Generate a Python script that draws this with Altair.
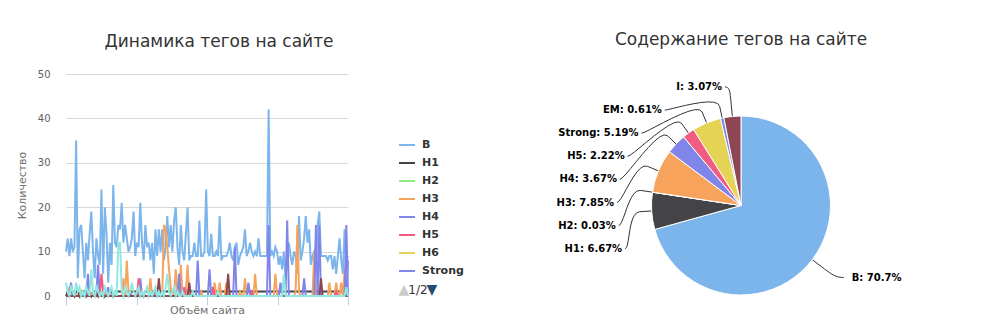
import altair as alt
import pandas as pd

FONT = "DejaVu Sans"

# ---------------- line chart data ----------------
tags = ["B", "H1", "H2", "H3", "H4", "H5", "H6", "Strong", "EM", "I"]
line_colors = ["#7cb5ec", "#434348", "#90ed7d", "#f7a35c", "#8085e9",
               "#f15c80", "#e4d354", "#8085e8", "#8d4653", "#91e8e1"]

B = [10, 13, 9, 13, 10, 11, 35, 4, 15, 16, 10, 4, 12, 8, 14, 19, 10, 4, 13, 9, 7,
     24, 5, 20, 14, 3, 12, 7, 25, 12, 11, 16, 15, 21, 12, 16, 13, 10, 11, 13, 19, 9,
     12, 11, 21, 12, 8, 16, 11, 12, 8, 12, 5, 15, 9, 15, 10, 15, 8, 11, 18, 11, 16,
     10, 17, 20, 11, 7, 16, 10, 8, 14, 20, 8, 9, 9, 12, 9, 9, 17, 9, 9, 10, 24,
     10, 9, 14, 9, 9, 10, 9, 18, 8, 9, 9, 9, 10, 12, 9, 8, 11, 12, 7, 9, 10,
     11, 15, 9, 10, 12, 10, 9, 10, 9, 13, 9, 9, 9, 9, 9, 42, 9, 10, 9, 11, 10,
     7, 9, 6, 10, 4, 10, 12, 9, 7, 10, 9, 5, 18, 8, 10, 13, 18, 12, 15, 7, 9,
     10, 8, 16, 19, 9, 9, 9, 9, 8, 9, 9, 6, 9, 5, 9, 13, 8, 5, 15, 8, 9]

H1 = [0, 1, 0, 1, 1, 0, 1, 1, 0, 1, 1, 1, 0, 1, 1, 0, 1, 1, 1, 0, 1,
      1, 1, 0, 1, 1, 1, 1, 0, 1, 1, 1, 1, 1, 0, 1, 1, 1, 1, 1, 1, 1,
      1, 1, 1, 1, 0, 1, 1, 1, 1, 1, 1, 1, 1, 1, 1, 1, 1, 1, 1, 1, 1,
      1, 1, 1, 1, 1, 1, 1, 1, 1, 1, 1, 1, 1, 1, 1, 1, 1, 1, 1, 1, 1,
      1, 1, 1, 1, 1, 1, 1, 1, 1, 1, 1, 1, 1, 1, 1, 1, 1, 1, 1, 1, 1,
      1, 1, 1, 1, 1, 1, 1, 1, 1, 1, 1, 1, 1, 1, 1, 1, 1, 1, 1, 1, 1,
      1, 1, 1, 1, 1, 1, 1, 1, 1, 1, 1, 1, 1, 1, 1, 1, 1, 1, 1, 1, 1,
      1, 1, 1, 1, 1, 1, 1, 1, 1, 1, 1, 1, 1, 1, 1, 1, 1, 1, 1, 1, 1]

H2 = [0, 0, 0, 0, 0, 0, 0, 0, 0, 0, 0, 0, 1, 0, 0, 0, 0, 0, 0, 0, 0,
      0, 0, 0, 0, 0, 0, 0, 0, 0, 0, 0, 0, 0, 0, 0, 0, 0, 0, 0, 0, 0,
      0, 0, 0, 0, 0, 0, 0, 0, 0, 0, 0, 0, 0, 0, 0, 0, 0, 0, 0, 0, 0,
      0, 0, 0, 0, 0, 0, 0, 0, 0, 0, 0, 0, 0, 0, 0, 0, 0, 0, 0, 0, 0,
      0, 0, 0, 0, 0, 0, 0, 0, 0, 0, 0, 0, 0, 0, 0, 0, 0, 0, 0, 0, 0,
      0, 0, 0, 0, 0, 0, 0, 0, 0, 0, 0, 0, 0, 0, 0, 0, 0, 0, 0, 0, 0,
      0, 0, 0, 0, 0, 0, 0, 0, 0, 0, 0, 0, 0, 0, 0, 0, 0, 0, 0, 0, 0,
      0, 0, 0, 0, 0, 0, 0, 0, 0, 0, 0, 0, 0, 0, 0, 0, 0, 0, 0, 0, 0]

H3 = [0, 0, 2, 0, 0, 1, 0, 0, 0, 1, 0, 0, 0, 0, 0, 0, 1, 0, 0, 0, 0,
      0, 0, 0, 1, 0, 0, 0, 0, 0, 0, 0, 0, 0, 4, 0, 8, 1, 0, 0, 0, 0,
      0, 0, 1, 0, 0, 0, 0, 0, 4, 0, 0, 1, 0, 0, 0, 0, 16, 15, 11, 6, 2,
      0, 0, 6, 1, 0, 7, 0, 0, 1, 7, 0, 0, 0, 0, 0, 0, 0, 1, 0, 0, 0,
      0, 0, 0, 0, 3, 0, 0, 3, 0, 0, 0, 3, 0, 0, 0, 0, 0, 0, 0, 1, 0,
      0, 4, 0, 0, 0, 0, 0, 5, 0, 0, 0, 0, 0, 0, 0, 0, 0, 0, 0, 5, 0,
      0, 0, 0, 0, 0, 0, 0, 0, 0, 0, 1, 16, 1, 0, 0, 0, 0, 0, 0, 0, 0,
      10, 0, 0, 0, 0, 0, 0, 0, 0, 3, 0, 0, 0, 3, 0, 0, 3, 0, 6, 0, 0]

H4 = [0, 0, 1, 3, 0, 0, 0, 0, 0, 0, 0, 0, 0, 0, 0, 0, 0, 0, 1, 7, 0,
      0, 0, 0, 0, 0, 0, 0, 0, 0, 0, 0, 0, 0, 0, 0, 0, 0, 1, 0, 0, 0,
      0, 0, 4, 0, 0, 0, 0, 0, 0, 0, 0, 0, 0, 0, 0, 0, 0, 0, 0, 0, 0,
      0, 0, 0, 0, 0, 0, 0, 0, 0, 0, 0, 0, 0, 0, 0, 8, 0, 0, 0, 0, 0,
      0, 0, 0, 0, 0, 0, 0, 0, 0, 0, 0, 0, 0, 0, 0, 0, 11, 0, 0, 0, 0,
      0, 0, 0, 0, 0, 0, 0, 0, 0, 0, 0, 0, 0, 0, 0, 0, 0, 0, 0, 0, 0,
      0, 0, 0, 0, 0, 17, 0, 0, 0, 0, 0, 0, 0, 0, 0, 0, 0, 0, 0, 0, 0,
      0, 16, 0, 0, 0, 0, 0, 0, 0, 0, 0, 0, 0, 0, 0, 0, 0, 0, 0, 0, 8]

H5 = [0, 0, 0, 0, 0, 0, 0, 0, 0, 0, 0, 0, 2, 0, 0, 0, 0, 0, 0, 0, 0,
      5, 1, 0, 0, 0, 0, 0, 0, 0, 0, 0, 0, 0, 0, 0, 0, 0, 0, 0, 0, 0,
      0, 4, 0, 0, 0, 0, 0, 0, 0, 0, 0, 0, 0, 0, 0, 0, 0, 0, 0, 0, 0,
      0, 0, 0, 0, 0, 0, 0, 2, 0, 0, 0, 0, 0, 0, 0, 0, 0, 0, 0, 0, 0,
      0, 0, 0, 2, 0, 0, 0, 0, 0, 0, 0, 0, 0, 0, 0, 0, 0, 0, 0, 0, 0,
      0, 0, 0, 0, 0, 1, 0, 0, 0, 0, 0, 0, 0, 0, 0, 0, 0, 0, 0, 0, 0,
      0, 0, 0, 0, 0, 0, 0, 0, 0, 0, 0, 0, 0, 0, 0, 0, 0, 0, 0, 0, 0,
      0, 0, 0, 0, 0, 0, 0, 0, 0, 0, 0, 0, 0, 1, 0, 0, 0, 0, 0, 0, 0]

H6 = [0] * 21 + [0] * 21 + [0] * 21 + [0] * 21 + [0] * 21 + [0] * 21 + [0] * 21 + [0] * 21

Strong = [0, 0, 0, 0, 0, 0, 0, 0, 0, 0, 0, 0, 0, 5, 0, 0, 0, 0, 0, 0, 0,
          0, 0, 0, 0, 2, 0, 0, 0, 0, 0, 0, 0, 0, 0, 0, 0, 0, 0, 0, 0, 0,
          0, 0, 0, 0, 0, 0, 0, 0, 0, 0, 0, 2, 0, 0, 0, 0, 0, 0, 0, 0, 0,
          0, 0, 0, 0, 5, 0, 0, 0, 0, 0, 0, 0, 0, 0, 0, 0, 0, 0, 0, 0, 0,
          0, 6, 0, 0, 0, 0, 0, 0, 0, 0, 0, 0, 0, 0, 0, 0, 0, 0, 0, 0, 0,
          0, 0, 0, 3, 0, 0, 0, 0, 0, 0, 0, 0, 0, 0, 0, 16, 0, 0, 0, 0, 0,
          0, 3, 0, 0, 0, 0, 0, 0, 0, 0, 0, 0, 0, 0, 0, 4, 0, 0, 0, 0, 0,
          0, 0, 0, 16, 0, 0, 0, 0, 0, 0, 0, 0, 0, 0, 0, 0, 0, 0, 0, 16, 0]

EM = [0, 0, 0, 0, 0, 0, 0, 0, 0, 0, 0, 0, 0, 0, 0, 0, 0, 0, 0, 0, 0,
      0, 0, 0, 0, 0, 0, 0, 0, 0, 0, 0, 0, 0, 0, 0, 0, 0, 0, 0, 0, 0,
      0, 0, 0, 0, 0, 0, 0, 0, 0, 0, 0, 0, 0, 4, 0, 0, 0, 0, 0, 0, 0,
      0, 0, 0, 0, 0, 0, 0, 0, 0, 0, 3, 0, 0, 0, 0, 0, 0, 0, 0, 0, 0,
      0, 0, 0, 0, 0, 0, 0, 0, 0, 0, 0, 0, 5, 0, 0, 0, 0, 0, 0, 0, 0,
      0, 0, 0, 0, 0, 0, 0, 0, 0, 0, 0, 0, 0, 0, 0, 0, 0, 0, 0, 0, 0,
      0, 0, 0, 0, 0, 0, 0, 0, 0, 0, 0, 0, 0, 0, 0, 0, 0, 0, 0, 0, 0,
      0, 0, 0, 0, 4, 0, 0, 0, 0, 0, 0, 0, 0, 0, 0, 0, 0, 0, 0, 0, 0]

I = [3, 1, 0, 2, 1, 0, 3, 1, 2, 0, 1, 0, 2, 1, 0, 6, 1, 0, 2, 1, 0,
     1, 0, 2, 1, 0, 1, 2, 0, 1, 0, 12, 12, 1, 0, 2, 1, 0, 1, 3, 1, 0,
     1, 2, 0, 1, 0, 1, 2, 0, 1, 0, 1, 2, 0, 1, 0, 1, 0, 2, 5, 1, 0,
     1, 2, 0, 1, 0, 0, 1, 0, 0, 0, 0, 0, 1, 0, 0, 0, 0, 0, 0, 0, 0,
     0, 0, 0, 0, 0, 0, 1, 0, 0, 0, 0, 0, 0, 0, 0, 0, 0, 0, 0, 0, 0,
     0, 0, 0, 0, 0, 0, 0, 0, 0, 0, 0, 0, 0, 0, 0, 0, 0, 0, 0, 0, 0,
     0, 0, 0, 5, 0, 0, 0, 0, 0, 0, 0, 0, 0, 0, 0, 0, 0, 0, 0, 0, 0,
     0, 0, 0, 0, 0, 0, 0, 0, 0, 0, 0, 0, 0, 0, 0, 0, 0, 0, 0, 2, 0]

series = [B, H1, H2, H3, H4, H5, H6, Strong, EM, I]
y_ticks = [0, 10, 20, 30, 40, 50]

# ---------------- pie data ----------------
pie_tags = ["B", "H1", "H2", "H3", "H4", "H5", "Strong", "EM", "I"]
pie_pct = [70.7, 6.67, 0.03, 7.85, 3.67, 2.22, 5.19, 0.61, 3.07]
pie_colors = ["#7cb5ec", "#434348", "#90ed7d", "#f7a35c", "#8085e9",
              "#f15c80", "#e4d354", "#8085e8", "#8d4653"]

# ---------------- build tables ----------------
N = len(B)
rows = []
for s, (tag, vals) in enumerate(zip(tags, series)):
    for i, v in enumerate(vals):
        rows.append({"i": i, "v": v, "tag": tag, "s": s})
df = pd.DataFrame(rows)

pie_df = pd.DataFrame({
    "tag": pie_tags,
    "pct": pie_pct,
    "ord": list(range(len(pie_tags))),
    "label": [f"{t}: {p}%" for t, p in zip(pie_tags, pie_pct)],
})

# ---------------- left: line chart ----------------
WL, HL = 282, 222
x_ticks = [(N - 1) * k / 4 for k in range(5)]

lines = alt.Chart(df).mark_line(strokeWidth=2).encode(
    x=alt.X("i:Q", scale=alt.Scale(domain=[0, N - 1], nice=False, zero=False),
            axis=alt.Axis(title="Объём сайта", labels=False, grid=False, values=x_ticks,
                          domainColor="#C0D0E0", tickColor="#C0D0E0", tickSize=9,
                          titleColor="#707070", titleFont=FONT, titleFontSize=11,
                          titleFontWeight="normal", titlePadding=-1)),
    y=alt.Y("v:Q", scale=alt.Scale(domain=[0, 50], nice=False),
            axis=alt.Axis(title="Количество", values=y_ticks, domain=False, ticks=False,
                          gridColor="#D8D8D8", labelColor="#606060", labelFont=FONT,
                          labelFontSize=10, labelPadding=16, titleColor="#707070",
                          titleFont=FONT, titleFontSize=11, titleFontWeight="normal",
                          titlePadding=10)),
    color=alt.Color("tag:N", scale=alt.Scale(domain=tags, range=line_colors),
                    legend=alt.Legend(values=tags[:8], title=None, orient="none",
                                      legendX=332, legendY=62, padding=0,
                                      symbolType="stroke", symbolSize=256,
                                      symbolStrokeWidth=2, rowPadding=4, labelOffset=6,
                                      labelFont=FONT, labelFontSize=11,
                                      labelFontWeight="bold", labelColor="#333333")),
)

pager_up = alt.Chart(pd.DataFrame({"t": ["▲"]})).mark_text(
    font=FONT, fontSize=14, color="#cccccc", align="center", baseline="middle"
).encode(text="t:N", x=alt.value(338), y=alt.value(216))
pager_txt = alt.Chart(pd.DataFrame({"t": ["1/2"]})).mark_text(
    font=FONT, fontSize=12, color="#333333", align="center", baseline="middle"
).encode(text="t:N", x=alt.value(352), y=alt.value(216))
pager_dn = alt.Chart(pd.DataFrame({"t": ["▼"]})).mark_text(
    font=FONT, fontSize=14, color="#274b6d", align="center", baseline="middle"
).encode(text="t:N", x=alt.value(366), y=alt.value(216))

left = alt.layer(lines, pager_up, pager_txt, pager_dn).properties(
    width=WL, height=HL,
    title=alt.TitleParams("Динамика тегов на сайте", font=FONT, fontSize=17,
                          fontWeight="normal", color="#333333", anchor="middle",
                          dx=12, offset=5, baseline="alphabetic"),
)

# ---------------- right: pie chart ----------------
WR, HR = 400, 222
R = 89.5        # pie radius (px)
R2 = 119        # label circle radius
SLOT = 23.1     # vertical spacing of stacked labels
TOP = 118.5     # first stacked label
CO = 12         # connector break outside the pie

xs = alt.Scale(domain=[-WR / 2, WR / 2], nice=False, zero=False)
ys = alt.Scale(domain=[-90.5, 131.5], nice=False, zero=False)

base = alt.Chart(pie_df).transform_window(
    cum="sum(pct)", sort=[alt.SortField("ord")], frame=[None, 0]
).transform_joinaggregate(
    total="sum(pct)"
).transform_calculate(
    t0="(datum.cum - datum.pct) / datum.total * 2 * PI",
    t1="datum.cum / datum.total * 2 * PI",
    mid="(datum.cum - datum.pct / 2) / datum.total * 2 * PI",
    cx="0", cy="0",
    side="sin(datum.mid) < 0 ? -1 : 1",
).transform_window(
    rank="row_number()", groupby=["side"], sort=[alt.SortField("mid", order="descending")]
).transform_calculate(
    ly=f"datum.side < 0 ? {TOP} - (datum.rank - 1) * {SLOT} : cos(datum.mid) * {R2}",
).transform_calculate(
    gx=f"datum.side * sqrt(max(0, {R2} * {R2} - datum.ly * datum.ly))",
).transform_calculate(
    tx="datum.side < 0 ? datum.gx - 8 : datum.gx + 16",
    p0x="datum.side < 0 ? datum.gx - 5 : datum.gx + 8",
    ex=f"{R} * sin(datum.mid)", ey=f"{R} * cos(datum.mid)",
    bx=f"{R + CO} * sin(datum.mid)", by=f"{R + CO} * cos(datum.mid)",
).transform_calculate(
    c2x="2 * datum.bx - datum.ex", c2y="2 * datum.by - datum.ey",
)

arcs = base.mark_arc(outerRadius=R, stroke="white", strokeWidth=1).encode(
    x=alt.X("cx:Q", scale=xs, axis=None),
    y=alt.Y("cy:Q", scale=ys, axis=None),
    theta=alt.Theta("t0:Q", scale=None),
    theta2="t1:Q",
    color=alt.Color("tag:N", scale=alt.Scale(domain=pie_tags, range=pie_colors), legend=None),
)

conn = base.transform_calculate(
    ts="[0, 0.1, 0.2, 0.3, 0.4, 0.5, 0.6, 0.7, 0.8, 0.9, 1, 2]"
).transform_flatten(["ts"]).transform_calculate(
    u="1 - datum.ts",
).transform_calculate(
    px="datum.ts > 1 ? datum.ex : pow(datum.u,3)*datum.p0x + 3*pow(datum.u,2)*datum.ts*datum.gx + 3*datum.u*pow(datum.ts,2)*datum.c2x + pow(datum.ts,3)*datum.bx",
    py="datum.ts > 1 ? datum.ey : pow(datum.u,3)*datum.ly + 3*pow(datum.u,2)*datum.ts*datum.ly + 3*datum.u*pow(datum.ts,2)*datum.c2y + pow(datum.ts,3)*datum.by",
).mark_line(strokeWidth=1, color="#333333").encode(
    x=alt.X("px:Q", scale=xs, axis=None),
    y=alt.Y("py:Q", scale=ys, axis=None),
    detail="tag:N",
    order="ts:Q",
)

lab_left = base.transform_filter("datum.side < 0").mark_text(
    font=FONT, fontSize=10, fontWeight="bold", color="#000000", align="right", baseline="middle"
).encode(x=alt.X("tx:Q", scale=xs, axis=None), y=alt.Y("ly:Q", scale=ys, axis=None), text="label:N")

lab_right = base.transform_filter("datum.side > 0").mark_text(
    font=FONT, fontSize=10, fontWeight="bold", color="#000000", align="left", baseline="middle"
).encode(x=alt.X("tx:Q", scale=xs, axis=None), y=alt.Y("ly:Q", scale=ys, axis=None), text="label:N")

right = alt.layer(conn, arcs, lab_left, lab_right).properties(
    width=WR, height=HR,
    title=alt.TitleParams("Содержание тегов на сайте", font=FONT, fontSize=17,
                          fontWeight="normal", color="#333333", anchor="middle",
                          offset=12, baseline="alphabetic"),
)

chart = alt.hconcat(left, right, spacing=77).resolve_scale(
    x="independent", y="independent", color="independent"
).resolve_legend(color="independent").properties(
    padding={"left": 16, "top": 31, "right": 0, "bottom": 0},
    background="white",
).configure_view(stroke=None)

chart.save("out.html", embed_options={"renderer": "svg", "actions": False})
